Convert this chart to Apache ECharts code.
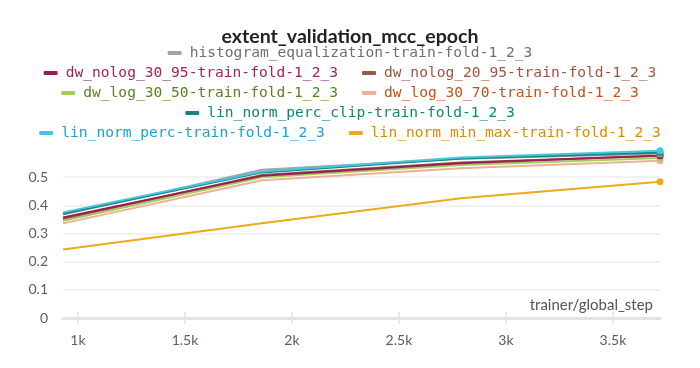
<!DOCTYPE html>
<html>
<head>
<meta charset="utf-8">
<script src="https://cdn.jsdelivr.net/npm/echarts@6/dist/echarts.min.js"></script>
<style>html,body{margin:0;padding:0;background:#fff}#c{width:700px;height:368px}</style>
</head>
<body>
<div id="c"></div>
<script>
// ---- data ----
const steps = [930, 1860, 2790, 3720];
const xTicks = [1000, 1500, 2000, 2500, 3000, 3500];
const histogram_equalization = [0.367, 0.526, 0.565, 0.583];
const dw_nolog_30_95 = [0.357, 0.505, 0.549, 0.577];
const dw_nolog_20_95 = [0.352, 0.508, 0.552, 0.576];
const dw_log_30_50 = [0.345, 0.500, 0.543, 0.568];
const dw_log_30_70 = [0.336, 0.489, 0.532, 0.558];
const lin_norm_perc_clip = [0.370, 0.517, 0.566, 0.588];
const lin_norm_perc = [0.375, 0.520, 0.570, 0.594];
const lin_norm_min_max = [0.243, 0.336, 0.425, 0.484];

const names = {
  he: 'histogram_equalization-train-fold-1_2_3',
  n3095: 'dw_nolog_30_95-train-fold-1_2_3',
  n2095: 'dw_nolog_20_95-train-fold-1_2_3',
  l3050: 'dw_log_30_50-train-fold-1_2_3',
  l3070: 'dw_log_30_70-train-fold-1_2_3',
  clip: 'lin_norm_perc_clip-train-fold-1_2_3',
  perc: 'lin_norm_perc-train-fold-1_2_3',
  mm: 'lin_norm_min_max-train-fold-1_2_3'
};
const lineColors = {
  he: '#a4a4a4', n3095: '#9c1d56', n2095: '#9a5a48', l3050: '#a0cf5a',
  l3070: '#f0b095', clip: '#12887a', perc: '#4bc3e0', mm: '#eeaa1a'
};
const textColors = {
  he: '#6b7075', n3095: '#a1225e', n2095: '#9e5540', l3050: '#5e8022',
  l3070: '#c2521c', clip: '#138372', perc: '#1c9fd6', mm: '#d88d05'
};
const values = {
  he: histogram_equalization, n3095: dw_nolog_30_95, n2095: dw_nolog_20_95,
  l3050: dw_log_30_50, l3070: dw_log_30_70, clip: lin_norm_perc_clip,
  perc: lin_norm_perc, mm: lin_norm_min_max
};
const drawOrder = ['mm', 'l3070', 'l3050', 'n2095', 'n3095', 'he', 'clip', 'perc'];
const legendRows = [['he'], ['n3095', 'n2095'], ['l3050', 'l3070'], ['clip'], ['perc', 'mm']];

const chart = echarts.init(document.getElementById('c'), null, {renderer: 'canvas'});

const series = drawOrder.map(k => ({
  name: names[k],
  type: 'line',
  data: steps.map((s, i) => [s, values[k][i]]),
  color: lineColors[k],
  lineStyle: {width: 2, color: lineColors[k]},
  symbol: 'circle',
  symbolSize: (v, p) => p.dataIndex === steps.length - 1 ? 7 : 0,
  showAllSymbol: true,
  itemStyle: {color: lineColors[k]},
  emphasis: {disabled: true},
  animation: false
}));

const legends = legendRows.map((row, r) => ({
  data: row.map(k => ({name: names[k], textStyle: {color: textColors[k]}, itemStyle: {color: lineColors[k]}})),
  left: 'center',
  top: 45 + r * 20,
  padding: 0,
  icon: 'roundRect',
  itemWidth: 14,
  itemHeight: 4,
  itemGap: 24,
  selectedMode: false,
  textStyle: {fontFamily: 'DejaVu Sans Mono', fontSize: 14.6, lineHeight: 16, padding: [0, 0, 0, 3]}
}));

const splitColors = ['transparent', '#ececec', '#ececec', '#ececec', '#ececec', '#ececec', 'transparent'];

const xBase = {
  type: 'value', min: 930, max: 3720, position: 'bottom', gridIndex: 0,
  splitLine: {show: false}
};

chart.setOption({
  backgroundColor: '#fff',
  animation: false,
  title: {
    text: 'extent_validation_mcc_epoch',
    left: 'center', top: 20,
    textStyle: {fontFamily: 'Lato', fontWeight: 'bold', fontSize: 19.5, color: '#222', lineHeight: 23}
  },
  legend: legends,
  grid: {left: 63, right: 40, top: 149, bottom: 50},
  xAxis: [
    Object.assign({}, xBase, {
      axisLine: {show: true, lineStyle: {color: '#e2e2e2', width: 3}},
      axisTick: {show: true, length: 6, lineStyle: {color: '#e2e2e2', width: 1.5}, customValues: xTicks},
      axisLabel: {show: true, customValues: xTicks, formatter: v => (v / 1000) + 'k', margin: 15,
        fontFamily: 'Lato', fontSize: 14, color: '#5a5d66'}
    }),
    Object.assign({}, xBase, {
      axisLine: {show: false},
      axisTick: {show: true, inside: true, length: 6, lineStyle: {color: '#e2e2e2', width: 1.5}, customValues: xTicks},
      axisLabel: {show: false}
    })
  ],
  yAxis: {
    type: 'value', min: 0, max: 0.6, interval: 0.1,
    axisLine: {show: false}, axisTick: {show: false},
    axisLabel: {showMaxLabel: false, margin: 15, fontFamily: 'Lato', fontSize: 14, color: '#5a5d66',
      formatter: v => String(Math.round(v * 10) / 10)},
    splitLine: {show: true, lineStyle: {color: splitColors, width: 1.5}}
  },
  graphic: [{
    type: 'text', right: 47, top: 298,
    style: {text: 'trainer/global_step', fontFamily: 'Lato', fontSize: 15, fill: '#50545c'}
  }],
  series: series
});
</script>
</body>
</html>
